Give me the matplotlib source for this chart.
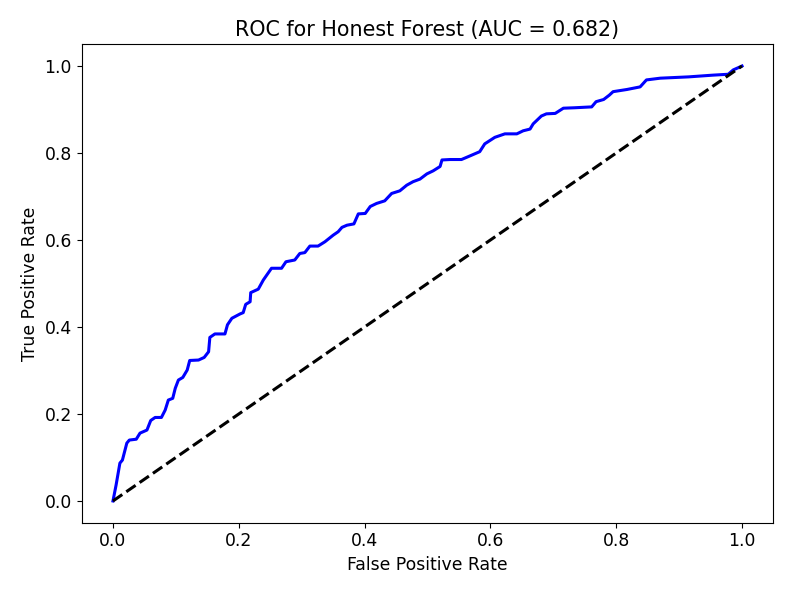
import matplotlib
matplotlib.use("Agg")
import matplotlib.pyplot as plt

# ROC curve points
fpr = [0.0, 0.005, 0.011, 0.015, 0.022, 0.026, 0.037, 0.043, 0.054, 0.06, 0.067, 0.077,
       0.083, 0.088, 0.095, 0.099, 0.104, 0.111, 0.118, 0.122, 0.136, 0.145, 0.152, 0.154,
       0.162, 0.178, 0.182, 0.189, 0.202, 0.207, 0.211, 0.218, 0.219, 0.231, 0.239, 0.252,
       0.268, 0.275, 0.289, 0.297, 0.305, 0.313, 0.326, 0.337, 0.350, 0.358, 0.364, 0.372,
       0.383, 0.390, 0.401, 0.409, 0.419, 0.432, 0.443, 0.456, 0.467, 0.477, 0.488, 0.499,
       0.509, 0.520, 0.523, 0.536, 0.554, 0.567, 0.583, 0.591, 0.607, 0.623, 0.642, 0.652,
       0.663, 0.668, 0.681, 0.689, 0.703, 0.716, 0.734, 0.761, 0.768, 0.780, 0.789, 0.795,
       0.817, 0.838, 0.848, 0.870, 0.915, 0.954, 0.978, 0.986, 1.0]
tpr = [0.0, 0.037, 0.087, 0.094, 0.133, 0.140, 0.142, 0.156, 0.163, 0.185, 0.192, 0.192,
       0.209, 0.232, 0.236, 0.259, 0.278, 0.284, 0.301, 0.323, 0.324, 0.330, 0.343, 0.376,
       0.384, 0.384, 0.405, 0.420, 0.430, 0.433, 0.452, 0.458, 0.479, 0.487, 0.508, 0.535,
       0.535, 0.550, 0.554, 0.569, 0.571, 0.586, 0.586, 0.596, 0.611, 0.619, 0.629, 0.634,
       0.637, 0.660, 0.661, 0.677, 0.684, 0.690, 0.707, 0.713, 0.726, 0.734, 0.740, 0.752,
       0.759, 0.769, 0.784, 0.785, 0.785, 0.793, 0.803, 0.821, 0.836, 0.844, 0.844, 0.851,
       0.855, 0.867, 0.885, 0.890, 0.891, 0.903, 0.904, 0.906, 0.918, 0.923, 0.933, 0.941,
       0.946, 0.952, 0.968, 0.972, 0.975, 0.979, 0.981, 0.991, 1.0]
auc = 0.682

plt.rcParams['font.size'] = 12.4
fig = plt.figure(figsize=(7.93, 5.94), dpi=100)
ax = fig.add_axes([0.1028, 0.12, 0.8726, 0.8055])
ax.plot(fpr, tpr, color='blue', lw=2.2)
ax.plot([0, 1], [0, 1], color='black', lw=2.2, linestyle='--')
ax.set_xlabel("False Positive Rate")
ax.set_ylabel("True Positive Rate")
ax.set_title(f"ROC for Honest Forest (AUC = {auc:.3f})")
fig.savefig("out.png", dpi=100)
